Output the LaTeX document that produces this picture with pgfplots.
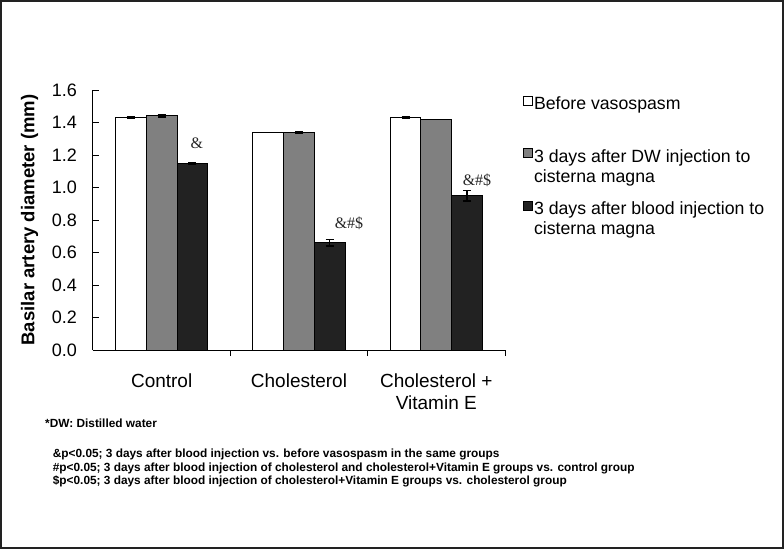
\documentclass[border=0pt]{standalone}
\usepackage{fontspec}
\setmainfont{Liberation Sans}
\newfontfamily\timesfont{Liberation Serif}
\usepackage{pgfplots}
\pgfplotsset{compat=1.18}
\definecolor{bargray}{HTML}{808080}
\definecolor{bardark}{HTML}{222222}
\definecolor{framec}{HTML}{222222}
\begin{document}
\begin{tikzpicture}
\begin{axis}[
  at={(93pt,199pt)}, anchor=south west,
  width=412pt, height=260pt, scale only axis,
  xmin=-0.5, xmax=2.5, ymin=0, ymax=1.6,
  axis x line*=bottom, axis y line*=left,
  axis line style={black, line width=1pt},
  tick align=inside,
  xtick={0,1,2},
  xticklabels={Control,Cholesterol,{Cholesterol +\\Vitamin E}},
  major x tick style={draw=none},
  minor xtick={0.5,1.5,2.5},
  minor tick length=6pt, major tick length=6pt,
  tick style={black, line width=0.8pt},
  ytick={0,0.2,0.4,0.6,0.8,1.0,1.2,1.4,1.6},
  /pgf/number format/fixed, /pgf/number format/fixed zerofill,
  /pgf/number format/precision=1, /pgf/number format/assume math mode=true,
  yticklabel style={font=\fontsize{18}{20}\selectfont, inner sep=0pt, xshift=-16pt},
  xticklabel style={font=\fontsize{19}{22}\selectfont, align=center, inner sep=0pt, yshift=-18pt},
  ylabel={Basilar artery diameter (mm)},
  ylabel style={font=\bfseries\fontsize{18.5}{20}\selectfont, at={(axis description cs:-0.1541,0.5)}, anchor=center},
  ybar, bar width=30.7pt,
  legend cell align=left,
  legend style={at={(1.0437,0.983)}, anchor=north west, draw=none, fill=none,
    inner sep=0pt, row sep=15pt, font=\fontsize{17.7}{20}\selectfont,
    nodes={inner sep=1pt}, cells={align=left}},
  error bars/y dir=both, error bars/y explicit,
  error bars/error bar style={line width=1.2pt, black},
  error bars/error mark options={rotate=90, mark size=4pt, line width=1.2pt, black},
]
\addplot[ybar, bar shift=-30.7pt, fill=white, draw=black, line width=1pt,
  legend image code/.code={\draw[fill=white, draw=black, line width=0.8pt] (0pt,8pt) rectangle (9pt,17pt);}]
  coordinates {(0,1.43) +- (0,0.006) (1,1.34) +- (0,0) (2,1.43) +- (0,0.006)};
\addlegendentry{Before vasospasm\strut\\\strut}
\addplot[ybar, bar shift=0pt, fill=bargray, draw=black, line width=1pt,
  legend image code/.code={\draw[fill=bargray, draw=black, line width=0.8pt] (0pt,8pt) rectangle (9pt,17pt);}]
  coordinates {(0,1.44) +- (0,0.006) (1,1.34) +- (0,0.006) (2,1.42) +- (0,0)};
\addlegendentry{3 days after DW injection to\strut\\cisterna magna\strut}
\addplot[ybar, bar shift=30.7pt, fill=bardark, draw=black, line width=1pt,
  legend image code/.code={\draw[fill=bardark, draw=black, line width=0.8pt] (0pt,8pt) rectangle (9pt,17pt);}]
  coordinates {(0,1.15) +- (0,0.006) (1,0.66) +- (0,0.02) (2,0.95) +- (0,0.033)};
\addlegendentry{3 days after blood injection to\strut\\cisterna magna\strut}
\node[font=\timesfont\fontsize{16}{18}\selectfont, text=black!85] at (axis cs:0.257,1.274) {\&};
\node[font=\timesfont\fontsize{16}{18}\selectfont, text=black!85] at (axis cs:1.364,0.782) {\&\#\$};
\node[font=\timesfont\fontsize{16}{18}\selectfont, text=black!85] at (axis cs:2.296,1.046) {\&\#\$};
\end{axis}
\begin{scope}[every node/.style={anchor=base west, inner sep=0pt, font=\bfseries\fontsize{11.85}{14}\selectfont}]
\node at (45pt,121.7pt) {*DW: Distilled water};
\node at (52.7pt,91.7pt) {\&p<0.05; 3 days after blood injection vs. before vasospasm in the same groups};
\node at (52.7pt,77.7pt) {\#p<0.05; 3 days after blood injection of cholesterol and cholesterol+Vitamin E groups vs. control group};
\node at (52.7pt,64.7pt) {\$p<0.05; 3 days after blood injection of cholesterol+Vitamin E groups vs. cholesterol group};
\end{scope}
\draw[framec, line width=2pt] (1pt,1pt) rectangle (783pt,548pt);
\pgfresetboundingbox
\path[use as bounding box] (0,0) rectangle (784pt,549pt);
\end{tikzpicture}
\end{document}
